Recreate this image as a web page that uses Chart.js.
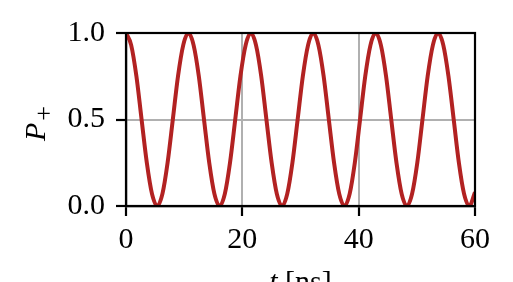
<!DOCTYPE html>
<html>
<head>
<meta charset="utf-8">
<script src="https://cdn.jsdelivr.net/npm/chart.js@4/dist/chart.umd.min.js"></script>
<style>
  html, body { margin:0; padding:0; background:#fff; }
  #wrap { width:513px; height:282px; position:relative; }
</style>
</head>
<body>
<div id="wrap"><canvas id="chart"></canvas></div>
<script>
/* ── DATA ── */
const tValues = [
  0, 0.89, 1.79, 2.68, 3.58, 4.47, 5.37, 6.26, 7.15, 8.05, 8.94, 9.84,
  10.73, 11.62, 12.52, 13.41, 14.31, 15.20, 16.10, 16.99, 17.88, 18.78, 19.67, 20.57,
  21.46, 22.35, 23.25, 24.14, 25.04, 25.93, 26.83, 27.72, 28.61, 29.51, 30.40, 31.30,
  32.19, 33.08, 33.98, 34.87, 35.77, 36.66, 37.56, 38.45, 39.34, 40.24, 41.13, 42.03,
  42.92, 43.82, 44.71, 45.60, 46.50, 47.39, 48.29, 49.18, 50.08, 50.97, 51.86, 52.76,
  53.65, 54.55, 55.44, 56.34, 57.23, 58.12, 59.02, 60
];
const pPlus = [
  1, 0.93, 0.75, 0.5, 0.25, 0.07, 0, 0.07, 0.25, 0.5, 0.75, 0.93,
  1, 0.93, 0.75, 0.5, 0.25, 0.07, 0, 0.07, 0.25, 0.5, 0.75, 0.93,
  1, 0.93, 0.75, 0.5, 0.25, 0.07, 0, 0.07, 0.25, 0.5, 0.75, 0.93,
  1, 0.93, 0.75, 0.5, 0.25, 0.07, 0, 0.07, 0.25, 0.5, 0.75, 0.93,
  1, 0.93, 0.75, 0.5, 0.25, 0.07, 0, 0.07, 0.25, 0.5, 0.75, 0.93,
  1, 0.93, 0.75, 0.5, 0.25, 0.07, 0, 0.08
];
const xTicks = [0, 20, 40, 60];
const yTicks = [0, 0.5, 1];

/* ── STYLE ── */
const SERIF = "'Liberation Serif', 'DejaVu Serif', serif";
const LINE_RED = "#b22222";
const GRID = "#b0b0b0";

const points = tValues.map((t, i) => ({ x: t, y: pPlus[i] }));

/* frame + axis titles */
const framePlugin = {
  id: "frame",
  afterDatasetsDraw(chart) {
    const { ctx, chartArea: a } = chart;
    ctx.save();
    ctx.strokeStyle = "#000"; ctx.lineWidth = 2.2;
    ctx.strokeRect(a.left, a.top, a.right - a.left, a.bottom - a.top);

    // x title: italic t, upright [ns]
    ctx.fillStyle = "#000";
    ctx.textBaseline = "alphabetic";
    const fi = "italic 30px " + SERIF, fu = "30px " + SERIF;
    ctx.font = fi; const w1 = ctx.measureText("t").width;
    ctx.font = fu; const w2 = ctx.measureText(" [ns]").width;
    let x0 = (a.left + a.right) / 2 - (w1 + w2) / 2;
    ctx.font = fi; ctx.fillText("t", x0, 291);
    ctx.font = fu; ctx.fillText(" [ns]", x0 + w1, 291);

    // y title: italic P with subscript +
    ctx.translate(45, 141);
    ctx.rotate(-Math.PI / 2);
    ctx.font = fi; ctx.fillText("P", 0, 0);
    const wp = ctx.measureText("P").width;
    ctx.font = "26px " + SERIF; ctx.fillText("+", wp + 2, 7);
    ctx.restore();
  }
};

new Chart(document.getElementById("chart"), {
  type: "line",
  data: {
    datasets: [{
      data: points,
      borderColor: LINE_RED,
      borderWidth: 4,
      pointRadius: 0,
      cubicInterpolationMode: "monotone",
      fill: false
    }]
  },
  options: {
    responsive: true, maintainAspectRatio: false, animation: false,
    devicePixelRatio: 1,
    layout: { padding: { top: 33, right: 38, left: 0, bottom: 0 } },
    plugins: { legend: { display: false }, tooltip: { enabled: false } },
    scales: {
      x: {
        type: "linear", min: 0, max: 60,
        afterBuildTicks: s => { s.ticks = xTicks.map(v => ({ value: v })); },
        afterFit: s => { s.height = 76; },
        ticks: { color: "#000", font: { family: SERIF, size: 30 }, padding: 6, maxRotation: 0 },
        grid: {
          color: c => (c.tick && (c.tick.value === 20 || c.tick.value === 40)) ? GRID : "rgba(0,0,0,0)",
          lineWidth: 2, tickColor: "#000", tickLength: 10, tickWidth: 2.2
        },
        border: { display: true, color: "#000", width: 2.2 }
      },
      y: {
        min: 0, max: 1,
        afterBuildTicks: s => { s.ticks = yTicks.map(v => ({ value: v })); },
        afterFit: s => { s.width = 126; },
        ticks: { color: "#000", font: { family: SERIF, size: 30 }, padding: 11, callback: v => v.toFixed(1) },
        grid: {
          color: c => (c.tick && c.tick.value === 0.5) ? GRID : "rgba(0,0,0,0)",
          lineWidth: 2, tickColor: "#000", tickLength: 10, tickWidth: 2.2
        },
        border: { display: true, color: "#000", width: 2.2 }
      }
    }
  },
  plugins: [framePlugin]
});
</script>
</body>
</html>
